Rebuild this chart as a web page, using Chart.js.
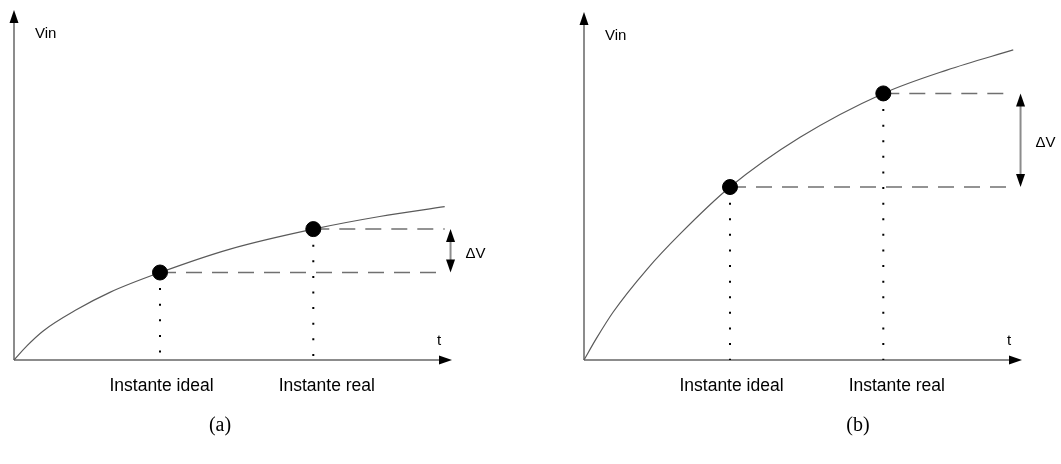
<!DOCTYPE html>
<html>
<head>
<meta charset="utf-8">
<script src="https://cdn.jsdelivr.net/npm/chart.js@4/dist/chart.umd.min.js"></script>
<style>
  html, body { margin: 0; padding: 0; background: #fff; width: 1061px; height: 464px; overflow: hidden; }
  canvas { position: absolute; top: 0; }
  #panelA { left: 0; }
  #panelB { left: 530px; }
</style>
</head>
<body>
<canvas id="panelA" width="530" height="464"></canvas>
<canvas id="panelB" width="531" height="464"></canvas>
<script>
// Input voltage Vin(t), panel (a): slow rise
const curveA_t = [0, 0.18, 0.40, 0.86, 1.32, 2.00, 2.96, 4.10, 5.01, 5.90];
const curveA_v = [0, 0.41, 0.83, 1.44, 1.94, 2.50, 3.17, 3.74, 4.10, 4.38];

// Input voltage Vin(t), panel (b): fast rise
const curveB_t = [0, 0.17, 0.40, 0.86, 1.32, 2.00, 2.96, 4.10, 4.97, 5.88];
const curveB_v = [0, 0.62, 1.38, 2.60, 3.63, 4.97, 6.40, 7.66, 8.33, 8.91];

// Sampling instants (ideal, real) and the voltage sampled at each
const instantT = [2.0, 4.1];
const instantLabels = ['Instante ideal', 'Instante real'];
const sampledA = [2.50, 3.74];
const sampledB = [4.97, 7.66];

const yAxisLabel = 'Vin';
const xAxisLabel = 't';
const deltaLabel = 'ΔV';
const captions = ['(a)', '(b)'];

const SANS = '"Liberation Sans", Arial, Helvetica, sans-serif';
const SERIF = '"Liberation Serif", "Times New Roman", serif';

function arrowHead(ctx, x, y, dir, len, half) {
  ctx.beginPath();
  ctx.moveTo(x, y);
  if (dir === 'up') { ctx.lineTo(x - half, y + len); ctx.lineTo(x + half, y + len); }
  else if (dir === 'down') { ctx.lineTo(x - half, y - len); ctx.lineTo(x + half, y - len); }
  else { ctx.lineTo(x - len, y - half); ctx.lineTo(x - len, y + half); }
  ctx.closePath();
  ctx.fillStyle = '#000';
  ctx.fill();
}

// Axes with arrowheads, the ΔV bracket and all annotation text
const decorations = {
  id: 'decorations',
  beforeDatasetsDraw(chart) {
    const { ctx, chartArea: a } = chart;
    ctx.save();
    ctx.strokeStyle = '#8c8c8c';
    ctx.lineWidth = 2;
    ctx.beginPath();
    ctx.moveTo(a.left, a.bottom);
    ctx.lineTo(a.left, a.top + 10);
    ctx.moveTo(a.left, a.bottom);
    ctx.lineTo(a.right - 10, a.bottom);
    ctx.stroke();
    arrowHead(ctx, a.left, a.top, 'up', 13, 4.5);
    arrowHead(ctx, a.right, a.bottom, 'right', 13, 4.5);
    ctx.restore();
  },
  afterDatasetsDraw(chart, args, opts) {
    const { ctx, chartArea: a, scales: { x, y } } = chart;
    const vals = opts.sampled;
    ctx.save();

    // ΔV double arrow between the two sampled levels
    const dx = x.getPixelForValue(opts.deltaT);
    const yTop = y.getPixelForValue(vals[1]);
    const yBot = y.getPixelForValue(vals[0]);
    ctx.strokeStyle = '#8c8c8c';
    ctx.lineWidth = 2;
    ctx.beginPath();
    ctx.moveTo(dx, yTop + 10);
    ctx.lineTo(dx, yBot - 10);
    ctx.stroke();
    arrowHead(ctx, dx, yTop, 'up', 13, 4.5);
    arrowHead(ctx, dx, yBot, 'down', 13, 4.5);

    ctx.fillStyle = '#000';
    ctx.textBaseline = 'alphabetic';
    ctx.font = '15px ' + SANS;
    ctx.textAlign = 'left';
    ctx.fillText(deltaLabel, dx + 15, (yTop + yBot) / 2 + 7);
    ctx.fillText(yAxisLabel, a.left + 21, a.top + 28);
    ctx.fillText(xAxisLabel, a.right - 15, a.bottom - 15);

    ctx.textAlign = 'center';
    ctx.font = '17.5px ' + SANS;
    const shifts = [1.5, 13.5];
    instantLabels.forEach((lbl, i) => {
      ctx.fillText(lbl, x.getPixelForValue(instantT[i]) + shifts[i], a.bottom + 31);
    });

    ctx.font = '20px ' + SERIF;
    ctx.fillText(opts.caption, opts.captionX, 431);
    ctx.restore();
  }
};

function buildPanel(canvasId, ts, vs, sampled, caption, captionX, pad) {
  const tEnd = ts[ts.length - 1];
  const curve = ts.map((t, i) => ({ x: t, y: vs[i] }));
  const guide = { pointRadius: 0, fill: false, clip: false, tension: 0 };
  const datasets = [
    {
      label: 'samples',
      data: instantT.map((t, i) => ({ x: t, y: sampled[i] })),
      showLine: false,
      pointRadius: 7.5,
      pointHoverRadius: 7.5,
      pointBackgroundColor: '#000',
      pointBorderColor: '#000',
      clip: false
    },
    {
      label: 'Vin',
      data: curve,
      borderColor: '#5a5a5a',
      borderWidth: 1.2,
      pointRadius: 0,
      cubicInterpolationMode: 'monotone',
      fill: false,
      clip: false
    }
  ];
  instantT.forEach((t, i) => {
    datasets.push(Object.assign({
      label: 'level' + i,
      data: [{ x: t, y: sampled[i] }, { x: tEnd, y: sampled[i] }],
      borderColor: '#707070',
      borderWidth: 1.5,
      borderDash: [16, 10]
    }, guide));
    datasets.push(Object.assign({
      label: 'instant' + i,
      data: [{ x: t, y: sampled[i] }, { x: t, y: 0 }],
      borderColor: '#000',
      borderWidth: 2,
      borderDash: [2, 13.6]
    }, guide));
  });

  return new Chart(document.getElementById(canvasId), {
    type: 'line',
    data: { datasets },
    options: {
      responsive: false,
      animation: false,
      events: [],
      layout: { autoPadding: false, padding: pad },
      scales: {
        x: { type: 'linear', min: 0, max: 6, display: false },
        y: { type: 'linear', min: 0, max: 10, display: false }
      },
      plugins: {
        legend: { display: false },
        tooltip: { enabled: false },
        decorations: { sampled, caption, captionX, deltaT: 5.98 }
      }
    },
    plugins: [decorations]
  });
}

buildPanel('panelA', curveA_t, curveA_v, sampledA, captions[0], 220,
  { left: 14, right: 78, top: 10, bottom: 104 });
buildPanel('panelB', curveB_t, curveB_v, sampledB, captions[1], 328,
  { left: 54, right: 39, top: 12, bottom: 104 });
</script>
</body>
</html>
